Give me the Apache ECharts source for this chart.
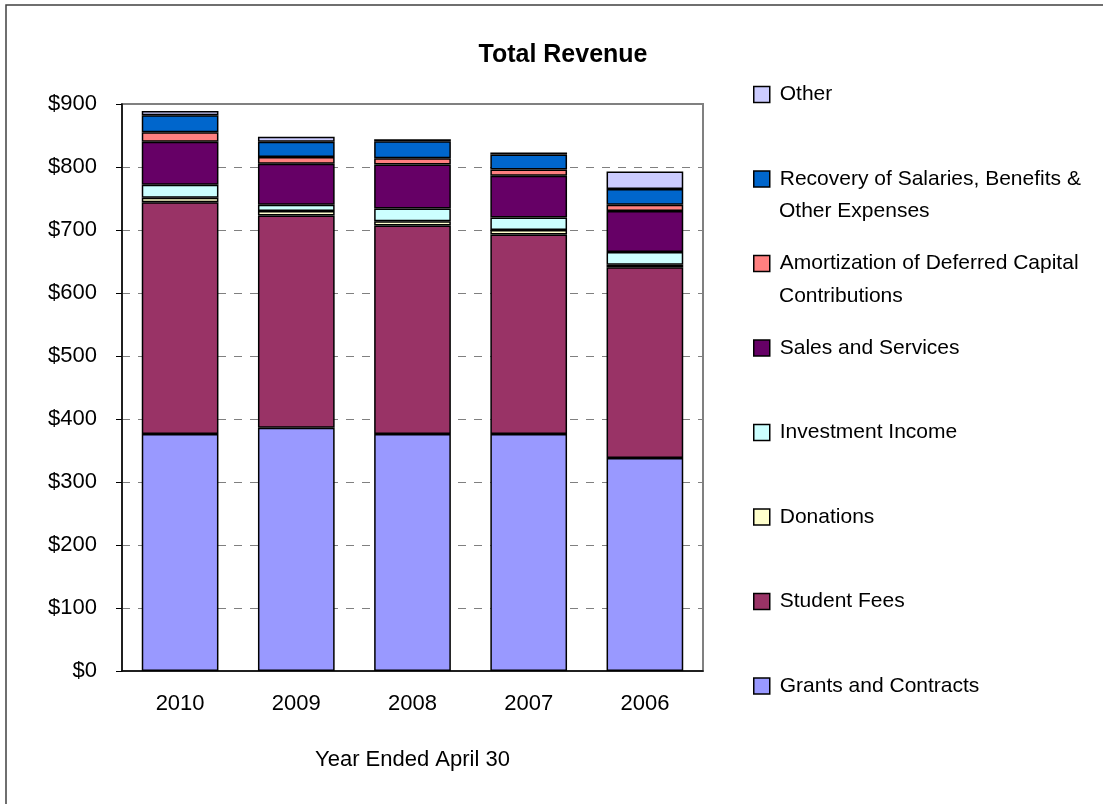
<!DOCTYPE html>
<html>
<head>
<meta charset="utf-8">
<script src="https://cdn.jsdelivr.net/npm/echarts@6/dist/echarts.min.js"></script>
<style>
html,body{margin:0;padding:0;background:#fff;}
#main{width:1103px;height:804px;}
</style>
</head>
<body>
<div id="main"></div>
<script>
// values ($ millions)
var years = ['2010', '2009', '2008', '2007', '2006'];
var yTicks = [0, 100, 200, 300, 400, 500, 600, 700, 800, 900];
var grants = [376, 386, 376, 376, 338];
var studentFees = [368, 337, 331, 317, 303];
var donations = [7, 7, 7, 7, 4];
var investment = [21, 10, 20, 20, 20];
var sales = [68, 65, 70, 66, 65];
var amortization = [15, 11, 10, 10, 10];
var recovery = [27, 24, 27, 24, 25];
var other = [7, 8, 3, 3, 28];

var names = ['Grants and Contracts', 'Student Fees', 'Donations', 'Investment Income',
    'Sales and Services', 'Amortization of Deferred Capital Contributions',
    'Recovery of Salaries, Benefits & Other Expenses', 'Other'];
var colors = ['#9999FF', '#993366', '#FFFFCC', '#CCFFFF', '#660066', '#FF8080', '#0066CC', '#CCCCFF'];
var values = [grants, studentFees, donations, investment, sales, amortization, recovery, other];
// first line shown in the legend, second line drawn below it
var firstLine = {
    'Amortization of Deferred Capital Contributions': 'Amortization of Deferred Capital',
    'Recovery of Salaries, Benefits & Other Expenses': 'Recovery of Salaries, Benefits &'
};

var font = 'Liberation Sans, Arial, sans-serif';

var series = [];
for (var i = 0; i < names.length; i++) {
    series.push({
        name: names[i],
        type: 'bar',
        stack: 'rev',
        barWidth: '66%',
        data: values[i],
        itemStyle: {color: colors[i], borderColor: '#000', borderWidth: 1.5},
        emphasis: {disabled: true}
    });
}

var chart = echarts.init(document.getElementById('main'));
var option = {
    animation: false,
    backgroundColor: '#fff',
    title: {
        text: 'Total Revenue',
        left: 558, top: 38,
        textAlign: 'center',
        textStyle: {fontFamily: font, fontSize: 25, fontWeight: 'bold', color: '#000'}
    },
    legend: {
        orient: 'vertical',
        left: 748, top: 79,
        icon: 'rect',
        itemWidth: 16, itemHeight: 16,
        itemGap: 63.5,
        data: names.slice().reverse(),
        formatter: function (n) { return firstLine[n] || n; },
        itemStyle: {borderColor: '#000', borderWidth: 1.5},
        textStyle: {fontFamily: font, fontSize: 21, color: '#000', padding: [0, 0, 0, 5]},
        selectedMode: false
    },
    grid: {
        left: 122, top: 104, right: 400, bottom: 133,
        show: true, borderColor: '#808080', borderWidth: 2
    },
    xAxis: {
        type: 'category',
        data: years,
        name: 'Year Ended April 30',
        nameLocation: 'middle',
        nameGap: 78,
        nameTextStyle: {fontFamily: font, fontSize: 22, color: '#000'},
        axisLine: {lineStyle: {color: '#000', width: 1.5}},
        axisTick: {length: 6, lineStyle: {color: '#000'}},
        axisLabel: {fontFamily: font, fontSize: 22, color: '#000', margin: 22}
    },
    yAxis: {
        type: 'value',
        min: yTicks[0], max: yTicks[yTicks.length - 1], interval: 100,
        axisLine: {show: true, lineStyle: {color: '#000', width: 1.5}},
        axisTick: {show: true, length: 6, lineStyle: {color: '#000'}},
        axisLabel: {fontFamily: font, fontSize: 22, color: '#000', margin: 25,
            formatter: function (v) { return '$' + v; }},
        splitLine: {lineStyle: {color: '#808080', type: [8, 8], width: 1}}
    },
    graphic: [
        {type: 'rect', shape: {x: 6, y: 5, width: 1200, height: 900}, silent: true, z: -1,
            style: {fill: null, stroke: '#404040', lineWidth: 1.5}},
        {type: 'text', left: 779, top: 201, silent: true,
            style: {text: 'Other Expenses', font: '21px ' + font, fill: '#000'}},
        {type: 'text', left: 779, top: 286, silent: true,
            style: {text: 'Contributions', font: '21px ' + font, fill: '#000'}}
    ],
    series: series
};
chart.setOption(option);
</script>
</body>
</html>
